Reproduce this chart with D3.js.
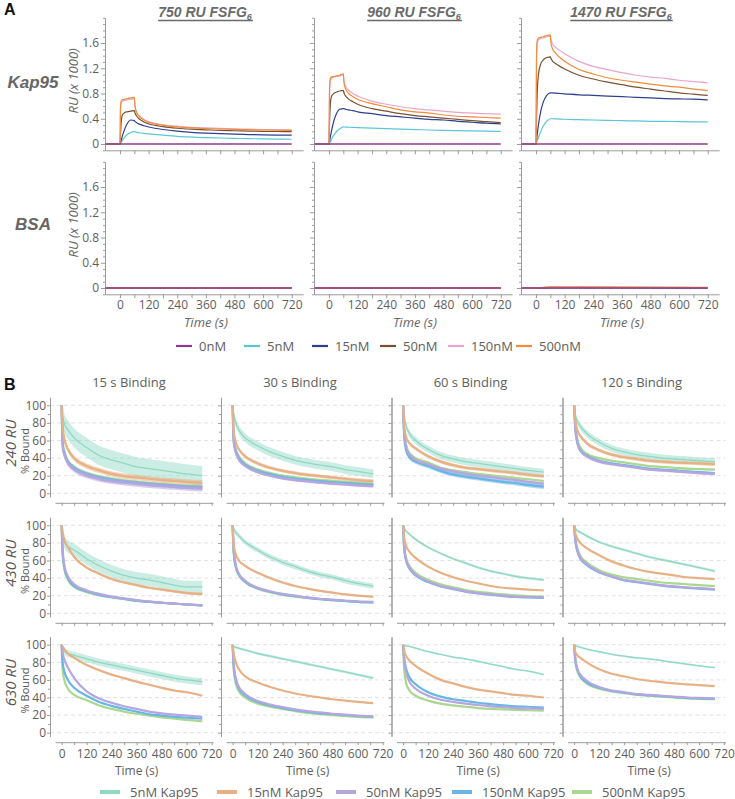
<!DOCTYPE html>
<html><head><meta charset="utf-8">
<script src="https://cdn.jsdelivr.net/npm/d3@7"></script>
<style>body{margin:0;background:#fff}svg{display:block}</style>
</head><body><svg id="c" width="735" height="799"></svg>
<script>
// ---------------- PANEL A DATA ----------------
const timesA = [-60,0,2,5,10,20,30,45,60,62,65,70,80,100,120,180,240,300,360,420,480,540,600,660,720];
const concA = ["0nM","5nM","15nM","50nM","150nM","500nM"];
const surfacesA = ["750","960","1470"];
const kap750 = [
 [0,0,0,0,0,0,0,0,0,0,0,0,0,0,0,0,0,0,0,0,0,0,0,0,0],
 [0,0,0.01,0.03,0.06,0.11,0.15,0.18,0.2,0.195,0.19,0.185,0.178,0.168,0.16,0.14,0.122,0.11,0.1,0.095,0.09,0.085,0.08,0.078,0.075],
 [0,0,0.02,0.06,0.13,0.24,0.32,0.38,0.37,0.36,0.35,0.335,0.315,0.29,0.27,0.23,0.205,0.185,0.172,0.163,0.156,0.15,0.145,0.142,0.14],
 [0,0,0.15,0.35,0.46,0.5,0.51,0.52,0.53,0.5,0.47,0.44,0.4,0.35,0.32,0.275,0.25,0.235,0.225,0.215,0.21,0.205,0.2,0.198,0.195],
 [0,0,0.55,0.66,0.68,0.69,0.7,0.71,0.72,0.63,0.56,0.5,0.45,0.39,0.355,0.305,0.28,0.265,0.255,0.247,0.24,0.235,0.23,0.227,0.225],
 [0,0,0.6,0.68,0.7,0.71,0.72,0.73,0.74,0.63,0.55,0.49,0.44,0.38,0.345,0.295,0.27,0.255,0.245,0.238,0.232,0.227,0.222,0.218,0.215]];
const kap960 = [
 [0,0,0,0,0,0,0,0,0,0,0,0,0,0,0,0,0,0,0,0,0,0,0,0,0],
 [0,0,0.01,0.03,0.07,0.14,0.19,0.24,0.27,0.27,0.269,0.268,0.266,0.263,0.26,0.252,0.243,0.235,0.228,0.222,0.216,0.211,0.207,0.203,0.2],
 [0,0,0.04,0.1,0.2,0.36,0.47,0.55,0.56,0.56,0.555,0.55,0.54,0.53,0.51,0.48,0.45,0.43,0.41,0.39,0.38,0.36,0.345,0.33,0.32],
 [0,0,0.3,0.6,0.75,0.8,0.82,0.84,0.85,0.82,0.79,0.76,0.72,0.67,0.63,0.56,0.52,0.48,0.45,0.43,0.41,0.39,0.37,0.355,0.34],
 [0,0,0.8,1.0,1.04,1.06,1.07,1.08,1.1,1.02,0.96,0.91,0.86,0.8,0.76,0.68,0.63,0.59,0.56,0.54,0.52,0.5,0.49,0.48,0.475],
 [0,0,0.85,1.03,1.06,1.07,1.08,1.09,1.11,1.0,0.93,0.87,0.81,0.75,0.71,0.64,0.59,0.54,0.51,0.49,0.46,0.44,0.43,0.42,0.41]];
const kap1470 = [
 [0,0,0,0,0,0,0,0,0,0,0,0,0,0,0,0,0,0,0,0,0,0,0,0,0],
 [0,0,0.02,0.05,0.1,0.2,0.28,0.36,0.4,0.4,0.4,0.4,0.398,0.395,0.392,0.386,0.38,0.375,0.37,0.365,0.36,0.358,0.355,0.352,0.35],
 [0,0,0.06,0.15,0.3,0.52,0.66,0.77,0.81,0.81,0.81,0.81,0.805,0.8,0.795,0.78,0.77,0.76,0.75,0.74,0.73,0.72,0.715,0.71,0.7],
 [0,0,0.4,0.8,1.1,1.27,1.33,1.37,1.38,1.36,1.34,1.31,1.28,1.23,1.19,1.09,1.03,0.98,0.94,0.9,0.87,0.84,0.81,0.79,0.77],
 [0,0,1.3,1.6,1.65,1.67,1.68,1.7,1.71,1.66,1.62,1.58,1.54,1.48,1.43,1.31,1.23,1.18,1.13,1.09,1.06,1.04,1.01,0.99,0.97],
 [0,0,1.4,1.64,1.68,1.69,1.7,1.72,1.73,1.62,1.56,1.5,1.45,1.37,1.31,1.18,1.11,1.05,1.01,0.98,0.95,0.92,0.9,0.87,0.85]];
const timesBSA = [-60,0,60,720];
const bsa750 = [[0,0,0,0],[0,0,0.002,0],[0,0,0.003,0],[0,0,0.004,0.001],[0,0,0.005,0.001],[0,0,0.005,0.001]];
const bsa960 = [[0,0,0,0],[0,0,0.002,0],[0,0,0.003,0],[0,0,0.004,0.001],[0,0,0.005,0.002],[0,0,0.006,0.002]];
const bsa1470 = [[0,0,0,0],[0,0,0.003,0.001],[0,0,0.006,0.002],[0,0,0.01,0.005],[0,0,0.015,0.008],[0,0,0.02,0.01]];
const yTicksA = [0,0.4,0.8,1.2,1.6];
const yMinorA = [-0.1,0.1,0.2,0.3,0.5,0.6,0.7,0.9,1.0,1.1,1.3,1.4,1.5,1.7,1.8,1.9,2.0];
const xTicksA = [0,60,120,180,240,300,360,420,480,540,600,660,720];

// ---------------- PANEL B DATA ----------------
const timesB = [0,5,15,30,60,120,180,240,300,360,420,480,540,600,675];
const seriesB = ["5nM Kap95","15nM Kap95","50nM Kap95","150nM Kap95","500nM Kap95"];
const bindings = ["15 s Binding","30 s Binding","60 s Binding","120 s Binding"];
const surfacesB = ["240 RU","430 RU","630 RU"];
const r240_c15 = [
 [100,88,78,72,63,52,43,38,34,30,28,26,24,22,20],
 [100,75,60,50,40,31,26,22,19.5,18,16.5,15,14,13,12],
 [100,52,42,34,27,20,16,13.5,12,10.5,9,8,7,6,5],
 [100,55,44,36,29,22,18,15.5,13.5,12,10.5,9.5,8.5,7.5,7],
 [100,58,46,37,30,23,19,16.5,14.5,13,11.5,10.5,9.5,8.5,8]];
const r240_c30 = [
 [100,90,80,72,63,54,47,42,37.5,34.5,32,30,27,25,22],
 [100,70,58,50,42,34,29,25.5,23,21,19.5,18,16.5,15,14],
 [100,58,46,38,31,24,20,17,15,13.5,12,11,10,9,8],
 [100,60,48,40,32.5,25.5,21.5,18.5,16.5,15,13.5,12.5,11.5,10.5,9.5],
 [100,62,50,42,34,27,23,20,18,16.5,15,14,13,12,11]];
const r240_c60 = [
 [100,88,76,68,60,50,43,39,36,34,32,30,28,26,24],
 [100,76,63,57,51,42,36,32,29,27.5,26,24.5,23,21,19.5],
 [100,68,52,44,38,33,28,25,22,20,18.5,16.5,15,13,11],
 [100,64,48,41,36,31,25.5,21.5,19,17,15,13,11.5,9.5,7.5],
 [100,70,54,46,40,35,29,26,24,22,20.5,19,17.5,16,14]];
const r240_c120 = [
 [100,90,82,76,68,58,51,47,44,42,40,39,38,37,36],
 [100,84,72,65,57,49,44,41,39,37,36,35,34.5,34,33],
 [100,75,57,48,42,36,33,31,29,27,26,25,24,23,22],
 [100,76,58,49,43,37,34,32,30,28,27,26,25,24,23],
 [100,80,62,52,45,40,37,35,33,31,30,29,28,27.5,27]];
const r430_c15 = [
 [100,88,80,76,72,62,54,48,43,40,38,35,32,30,30],
 [100,92,82,75,64,52,45,39,35,32,29,27,25,23,22],
 [100,70,52,42,33,26,22,19,17,15,13.5,12,11,10,9],
 [100,68,50,40,31,25,21,18.5,16.5,14.5,13,12,11,10,9],
 [100,65,48,38,30,24,20.5,18,16,14,13,12,11,10,9]];
const r430_c30 = [
 [100,96,92,88,81,72,64,58,53,48,44,41,37,34,31],
 [100,78,67,60,54,46,40,35,31,28,25.5,23.5,21.5,20,19],
 [100,72,55,45,37,29,25,22,20,18,16.5,15.5,14.5,13.5,13],
 [100,70,53,44,36,28.5,24.5,21.5,19.5,17.5,16,15,14,13,12.5],
 [100,68,52,43,35.5,28,24,21,19,17.5,16,15,14,13,12.5]];
const r430_c60 = [
 [100,97,93,90,84,75,68,62,57,52,48,45,42,40,38],
 [100,86,76,70,63,53,46,41,37,34,31,29,28,27,26],
 [100,75,60,52,44,36,31,28,25,23,21.5,20,19,18.5,18],
 [100,74,59,51,43,35.5,30.5,27.5,24.5,22.5,21,19.5,18.5,18,17.5],
 [100,77,62,54,46,38,33,29.5,26.5,24.5,23,21.5,20.5,19.5,19]];
const r430_c120 = [
 [100,97,94,92,88,81,76,72,68,64,61,58,55,52,48],
 [100,92,85,80,74,66,59,54,50,47,45,43,41,40,39],
 [100,85,72,63,56,47,42,38,36,34,32,30.5,29.5,28.5,27.5],
 [100,84,71,62,55,46.5,41.5,37.5,35.5,33.5,31.5,30,29,28,27],
 [100,86,74,65,58,49,44,41,39,37,35,34,33,32,31]];
const r630_c15 = [
 [100,95,92,90,88,84,80,77,74,71,68,65,62,60,58],
 [100,98,94,90,85,77,71,66,62,58,54.5,51,48,46,42],
 [100,90,82,74,62,47,39,34,30,27,24,22,20.5,19.5,18],
 [100,80,68,60,51,42,35,30.5,27,24,21,19.5,18,17,16],
 [100,70,58,50,43,37,31,27,24,21.5,19.5,17.5,16,14.5,13]];
const r630_c30 = [
 [100,98,97,96,94,90,87,84,81,78,75,72,69,66,62],
 [100,90,80,72,64,57,52,48,44.5,42,40,38,36.5,35,33.5],
 [100,78,62,52,44,36,32,29,26.5,24.5,23,21.5,20.5,19.5,18.5],
 [100,76,60,50,42.5,35,31,28,25.5,23.5,22,21,20,19,18],
 [100,72,56,47,40,33,29.5,27,24.5,22.5,21,20,19,18,17.5]];
const r630_c60 = [
 [100,99,98.5,98,96,92,89,86,84,81,78,75,72,70,66],
 [100,93,87,82,76,67,60,56,52,49,47,45,43,42,40],
 [100,82,68,58,50,42,37.5,35,33,31.5,30,29,28,27.5,27],
 [100,85,72,63,55,46,41,38,36,34,32.5,31,30,29.5,28.5],
 [100,72,56,48,42,36.5,33,31,29.5,28,27,26.5,26,25.5,25]];
const r630_c120 = [
 [100,99,98,97,95,92,89,87,85,84,82,80,78,76,74],
 [100,92,88,85,80,72,67,64,61,59,57.5,56,55,54,53],
 [100,85,73,66,59,52,48,46,44,43,42,41,40,39.5,39],
 [100,84,72,64,57,51,47.5,45.5,43.5,42.5,41.5,40.5,39.5,39,38.5],
 [100,83,70,63,56,50,47,45,43,42,41,40,39,38.5,38]];
// half-width of the noisy trace band, per column, per series
const noise240 = [[11,3,3,2,2],[5,2,1.5,1.5,1.5],[4,2,1.5,2.5,1],[4,2,1.5,1,1]];
const noise430 = [[7,1.5,1,1,1],[3,1,0.6,0.6,0.6],[1.5,0.6,0.5,0.5,0.5],[1.5,0.6,0.5,0.5,0.5]];
const noise630 = [[4,1,0.5,0.5,0.5],[1.5,0.5,0.4,0.4,0.4],[1,0.4,0.4,0.4,0.4],[1,0.4,0.4,0.4,0.4]];
const yTicksB = [0,20,40,60,80,100];
const yMinorB = [10,30,50,70,90];
const xTicksB = [0,60,120,180,240,300,360,420,480,540,600,660,720];

// ---------------- STYLE ----------------
const FONT = "'Open Sans', sans-serif";
const HFONT = "'Liberation Sans', Arial, sans-serif";
const txtCol = "#5e5e5e";
const axisCol = "#9c9c9c";
const colorsA = ["#8e3b8e","#5cc6d6","#2f3f8f","#7a5230","#e9a5cb","#f08c3a"];
const colorsB = ["#8ed8c4","#e8b185","#b6a6e0","#68b6e6","#a9d88e"];

const svg = d3.select("#c");

function styleAxis(g, fs){
  g.select(".domain").attr("stroke", axisCol).attr("stroke-width",1);
  g.selectAll(".tick line").attr("stroke", axisCol);
  g.selectAll(".tick text").attr("fill", txtCol).style("font-family", FONT).style("font-size", fs+"px");
}

// ---------------- PANEL A ----------------
svg.append("text").attr("x",4).attr("y",15).text("A")
  .style("font-family",HFONT).style("font-weight","bold").style("font-size","16px").attr("fill","#111");
svg.append("text").attr("x",4).attr("y",390).text("B")
  .style("font-family",HFONT).style("font-weight","bold").style("font-size","16px").attr("fill","#111");

const colAX = [105, 314, 521];
const rowAZero = [144, 288];
const dataA = [[kap750, kap960, kap1470],[bsa750, bsa960, bsa1470]];
const timesRowA = [timesA, timesBSA];
const rowNamesA = ["Kap95","BSA"];
const drawOrderA = [1,2,3,4,5,0];

rowAZero.forEach((z, ri) => {
  svg.append("text").attr("x",33).attr("y", ri===0 ? 88 : 230).attr("text-anchor","middle")
    .text(rowNamesA[ri]).style("font-family",HFONT).style("font-weight","bold").style("font-style","italic")
    .style("font-size","17px").attr("fill","#666");
});

surfacesA.forEach((name, ci) => {
  const ax = colAX[ci];
  const x = d3.scaleLinear().domain([-63, 768]).range([ax, ax + 831*171.7/720]);
  const t = svg.append("text").attr("x", ax + 100).attr("y", 17).attr("text-anchor","middle")
    .style("font-family",HFONT).style("font-weight","bold").style("font-style","italic")
    .style("font-size","14px").attr("fill","#6a6a6a");
  t.append("tspan").text(name + " RU FSFG");
  t.append("tspan").text("6").attr("dy",3).style("font-size","9px");
  const bb = t.node().getBBox();
  svg.append("line").attr("x1",bb.x).attr("x2",bb.x+bb.width).attr("y1",20.5).attr("y2",20.5)
    .attr("stroke","#6a6a6a").attr("stroke-width",1.3);

  rowAZero.forEach((z, ri) => {
    const y = d3.scaleLinear().domain([-0.1, 2.0]).range([z + 6.31, z - 126.2]);
    const gm = svg.append("g").attr("transform",`translate(${ax},0)`)
      .call(d3.axisLeft(y).tickValues(yMinorA).tickSize(2).tickSizeOuter(0).tickFormat(""));
    styleAxis(gm, 12);
    const gy = svg.append("g").attr("transform",`translate(${ax},0)`)
      .call(d3.axisLeft(y).tickValues(yTicksA).tickSize(4).tickPadding(2).tickSizeOuter(0)
        .tickFormat(ci===0 ? (d => d===0 ? "0" : d3.format(".1f")(d)) : ""));
    styleAxis(gy, 12);
    const gx = svg.append("g").attr("transform",`translate(0,${y(-0.1)})`)
      .call(d3.axisBottom(x).tickValues(xTicksA).tickSize(4).tickPadding(2).tickSizeOuter(0)
        .tickFormat(d => (ri===1 && d%120===0) ? d : ""));
    styleAxis(gx, 12);

    if (ci===0) {
      svg.append("text").attr("transform",`translate(78,${y(1.0)}) rotate(-90)`).attr("text-anchor","middle")
        .text("RU (x 1000)").style("font-family",FONT).style("font-style","italic").style("font-size","13px").attr("fill","#666");
    }
    if (ri===1) {
      svg.append("text").attr("x", x(360)).attr("y", 327).attr("text-anchor","middle")
        .text("Time (s)").style("font-family",FONT).style("font-style","italic").style("font-size","13px").attr("fill","#666");
    }
    const times = timesRowA[ri];
    const series = dataA[ri][ci];
    const line = d3.line().x(d => x(d[0])).y(d => y(d[1])).curve(d3.curveMonotoneX);
    drawOrderA.forEach(k => {
      const pts = times.map((tt,i) => [tt, series[k][i]]);
      svg.append("path").datum(pts).attr("d", line).attr("fill","none")
        .attr("stroke", colorsA[k]).attr("stroke-width", k===0 ? 1.6 : 1.2);
    });
  });
});

// legend A
const legAStart = 176, legAStep = 68, legAY = 346;
concA.forEach((c, i) => {
  const lx = legAStart + i*legAStep;
  svg.append("line").attr("x1",lx).attr("x2",lx+16).attr("y1",legAY).attr("y2",legAY)
    .attr("stroke",colorsA[i]).attr("stroke-width",2.2);
  svg.append("text").attr("x",lx+23).attr("y",legAY+4.5).text(c)
    .style("font-family",FONT).style("font-size","13px").attr("fill",txtCol);
});

// ---------------- PANEL B ----------------
const colBX = [50, 221, 391.5, 562.5];
const rowBZero = [493.3, 613.3, 732.7];
const dataB = [[r240_c15, r240_c30, r240_c60, r240_c120],
               [r430_c15, r430_c30, r430_c60, r430_c120],
               [r630_c15, r630_c30, r630_c60, r630_c120]];
const noiseB = [noise240, noise430, noise630];
const drawOrderB = [0,4,3,2,1];

bindings.forEach((b, ci) => {
  svg.append("text").attr("x", colBX[ci] + 79).attr("y", 387).attr("text-anchor","middle")
    .text(b).style("font-family",FONT).style("font-size","13px").attr("fill",txtCol);
});

rowBZero.forEach((z, ri) => {
  const y = d3.scaleLinear().domain([-4, 109]).range([z + 3.52, z - 95.92]);
  svg.append("text").attr("transform",`translate(16,${y(57)}) rotate(-90)`).attr("text-anchor","middle")
    .text(surfacesB[ri]).style("font-family",FONT).style("font-style","italic").style("font-size","15px").attr("fill","#555");
  svg.append("text").attr("transform",`translate(29,${y(48)}) rotate(-90)`).attr("text-anchor","middle")
    .text("% Bound").style("font-family",FONT).style("font-size","11px").attr("fill","#555");

  colBX.forEach((ax, ci) => {
    const x = d3.scaleLinear().domain([-32, 726]).range([ax + 5, ax + 5 + 758*150/720]);
    yTicksB.forEach(v => {
      svg.append("line").attr("x1", ax).attr("x2", x(726)).attr("y1", y(v)).attr("y2", y(v))
        .attr("stroke","#d9d9d9").attr("stroke-width",0.8).attr("stroke-dasharray","4,3");
    });
    const gm = svg.append("g").attr("transform",`translate(${ax},0)`)
      .call(d3.axisLeft(y).tickValues(yMinorB).tickSize(2).tickSizeOuter(0).tickFormat(""));
    styleAxis(gm, 12);
    const gy = svg.append("g").attr("transform",`translate(${ax},0)`)
      .call(d3.axisLeft(y).tickValues(yTicksB).tickSize(3).tickPadding(1).tickSizeOuter(0)
        .tickFormat(ci===0 ? (d => d) : ""));
    styleAxis(gy, 12);
    const gx = svg.append("g").attr("transform",`translate(0,${z + 9.5})`)
      .call(d3.axisBottom(x).tickValues(xTicksB).tickSize(3).tickPadding(4).tickSizeOuter(0)
        .tickFormat(d => (ri===2 && d%120===0) ? d : ""));
    styleAxis(gx, 12);
    if (ri===2) {
      svg.append("text").attr("x", x(360)).attr("y", 775).attr("text-anchor","middle")
        .text("Time (s)").style("font-family",FONT).style("font-size","12px").attr("fill",txtCol);
    }

    const area = d3.area().x(d => x(d[0])).y0(d => y(d[1]-d[2])).y1(d => y(Math.min(100, d[1]+d[2]))).curve(d3.curveMonotoneX);
    const line = d3.line().x(d => x(d[0])).y(d => y(d[1])).curve(d3.curveMonotoneX);
    drawOrderB.forEach(k => {
      const vals = dataB[ri][ci][k];
      const n = noiseB[ri][ci][k];
      const pts = timesB.map((t,i) => [t, vals[i], n]);
      if (n > 0.6) {
        svg.append("path").datum(pts).attr("d", area).attr("fill", colorsB[k])
          .attr("fill-opacity", k===0 ? 0.45 : 0.55);
      }
      svg.append("path").datum(pts).attr("d", line).attr("fill","none")
        .attr("stroke", colorsB[k]).attr("stroke-width", k===0 ? 1.3 : 2.2);
    });
  });
});

// legend B
const legBX = [100, 217, 336, 452, 572], legBY = 792;
seriesB.forEach((s, i) => {
  svg.append("line").attr("x1",legBX[i]).attr("x2",legBX[i]+20).attr("y1",legBY).attr("y2",legBY)
    .attr("stroke",colorsB[i]).attr("stroke-width",4);
  svg.append("text").attr("x",legBX[i]+30).attr("y",legBY+4.5).text(s)
    .style("font-family",FONT).style("font-size","13px").attr("fill",txtCol);
});
</script></body></html>
